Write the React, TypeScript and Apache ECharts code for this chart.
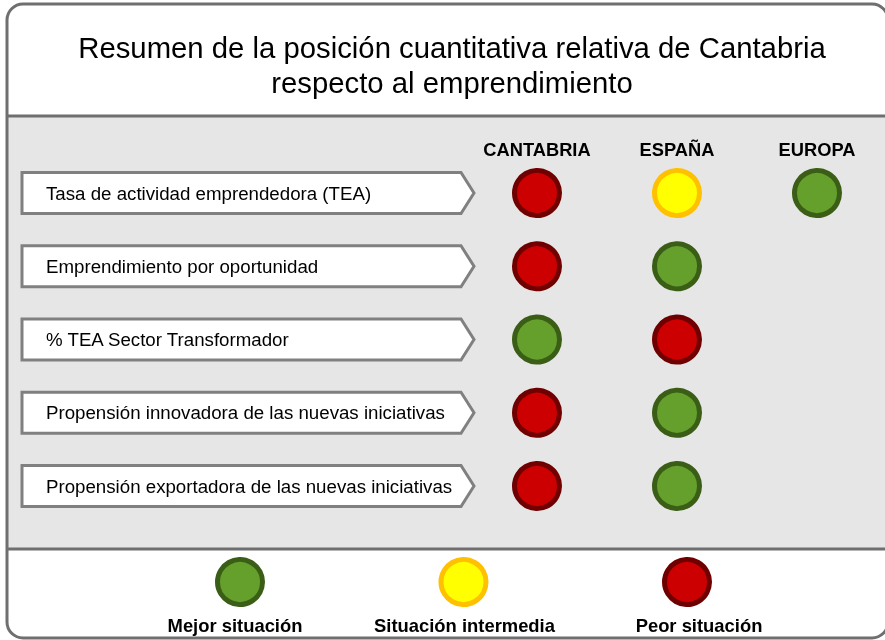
import React, { useEffect, useRef } from "react";
import * as echarts from "echarts";

const titleLines = [
  "Resumen de la posición cuantitativa relativa de Cantabria",
  "respecto al emprendimiento",
];
const regions = ["CANTABRIA", "ESPAÑA", "EUROPA"];
const indicators = [
  "Tasa de actividad emprendedora (TEA)",
  "Emprendimiento por oportunidad",
  "% TEA Sector Transformador",
  "Propensión innovadora de las nuevas iniciativas",
  "Propensión exportadora de las nuevas iniciativas",
];
// 0 = Mejor, 1 = Intermedia, 2 = Peor, null = sin dato
const cantabria = [2, 2, 0, 2, 2];
const espana = [1, 0, 2, 0, 0];
const europa = [0, null, null, null, null];
const statusLabels = ["Mejor situación", "Situación intermedia", "Peor situación"];
const statusFill = ["#66a02c", "#ffff00", "#cc0000"];
const statusBorder = ["#3b5e17", "#ffc000", "#700000"];

const FONT = "Liberation Sans, Arial, sans-serif";

export default function App() {
  const ref = useRef<HTMLDivElement>(null);
  useEffect(() => {
    if (!ref.current) return;
    const chart = echarts.init(ref.current, undefined, { renderer: "svg" });
    const values = [cantabria, espana, europa];
    const points: any[] = [];
    values.forEach((col, ci) =>
      col.forEach((s, ri) => {
        if (s === null || s === undefined) return;
        points.push({
          value: [ci, ri],
          itemStyle: { color: statusFill[s], borderColor: statusBorder[s], borderWidth: 5, opacity: 1 },
        });
      })
    );
    const legendPoints = statusLabels.map((_, i) => ({
      value: [i, 0.5],
      itemStyle: { color: statusFill[i], borderColor: statusBorder[i], borderWidth: 5, opacity: 1 },
    }));
    const line = (y: number) => ({
      type: "line",
      shape: { x1: 7, y1: y, x2: 890, y2: y },
      style: { stroke: "#6f6f6f", lineWidth: 3 },
      z: 2,
    });
    chart.setOption({
      animation: false,
      textStyle: { fontFamily: FONT },
      title: {
        text: titleLines.join("\n"),
        left: 447,
        top: 25,
        textAlign: "center",
        z: 10,
        textStyle: { fontSize: 29.3, fontWeight: "normal", color: "#000", lineHeight: 35, fontFamily: FONT },
      },
      graphic: [
        { type: "rect", shape: { x: 7, y: 4, width: 881, height: 634, r: 16 }, style: { fill: "#fff" }, z: 0, silent: true },
        { type: "rect", shape: { x: 7, y: 116, width: 883, height: 433 }, style: { fill: "#e6e6e6" }, z: 1, silent: true },
        line(116),
        line(549),
        {
          type: "rect",
          shape: { x: 7, y: 4, width: 881, height: 634, r: 16 },
          style: { fill: "none", stroke: "#6f6f6f", lineWidth: 3 },
          z: 3,
          silent: true,
        },
      ],
      grid: [
        { left: 537, right: 68, top: 193, bottom: 154 },
        { left: 240, right: 198, top: 572, height: 20 },
      ],
      xAxis: [
        {
          type: "category",
          gridIndex: 0,
          data: regions,
          boundaryGap: false,
          position: "top",
          z: 10,
          axisLine: { show: false },
          axisTick: { show: false },
          splitLine: { show: false },
          axisLabel: { fontSize: 18.3, fontWeight: "bold", color: "#000", margin: 35, fontFamily: FONT, interval: 0 },
        },
        {
          type: "category",
          gridIndex: 1,
          data: statusLabels,
          boundaryGap: false,
          position: "bottom",
          z: 10,
          axisLine: { show: false },
          axisTick: { show: false },
          splitLine: { show: false },
          axisLabel: {
            color: "#000",
            margin: 24,
            interval: 0,
            formatter: (v: string, i: number) => `{s${i}|${v}}`,
            rich: {
              s0: { fontSize: 18.4, fontWeight: "bold", fontFamily: FONT, padding: [0, 10, 0, 0] },
              s1: { fontSize: 18.4, fontWeight: "bold", fontFamily: FONT, padding: [0, 0, 0, 2] },
              s2: { fontSize: 18.4, fontWeight: "bold", fontFamily: FONT, padding: [0, 0, 0, 24] },
            },
          },
        },
      ],
      yAxis: [
        {
          type: "category",
          gridIndex: 0,
          data: indicators,
          inverse: true,
          boundaryGap: false,
          axisLine: { show: false },
          axisTick: { show: false },
          axisLabel: { show: false },
          splitLine: { show: false },
        },
        { type: "value", gridIndex: 1, min: 0, max: 1, show: false },
      ],
      series: [
        {
          type: "custom",
          xAxisIndex: 0,
          yAxisIndex: 0,
          z: 5,
          data: indicators.map((name, i) => ({ value: [0, i], name })),
          renderItem: (params: any, api: any) => {
            const y = api.coord([0, api.value(1)])[1];
            const h = 20.5;
            return {
              type: "group",
              children: [
                {
                  type: "polygon",
                  shape: {
                    points: [
                      [22, y - h],
                      [461, y - h],
                      [474, y],
                      [461, y + h],
                      [22, y + h],
                    ],
                  },
                  style: { fill: "#fff", stroke: "#808080", lineWidth: 3 },
                },
                {
                  type: "text",
                  style: {
                    x: 46,
                    y,
                    text: indicators[params.dataIndex],
                    fontSize: 18.7,
                    fontFamily: FONT,
                    fill: "#000",
                    verticalAlign: "middle",
                    align: "left",
                  },
                },
              ],
            };
          },
        },
        {
          type: "scatter",
          xAxisIndex: 0,
          yAxisIndex: 0,
          symbol: "circle",
          symbolSize: 45,
          z: 6,
          data: points,
        },
        {
          type: "scatter",
          xAxisIndex: 1,
          yAxisIndex: 1,
          symbol: "circle",
          symbolSize: 45,
          z: 6,
          data: legendPoints,
        },
      ],
    });
    return () => chart.dispose();
  }, []);
  return (
    <div
      ref={ref}
      style={{ position: "fixed", left: 0, top: 0, width: 885, height: 640 }}
    />
  );
}
